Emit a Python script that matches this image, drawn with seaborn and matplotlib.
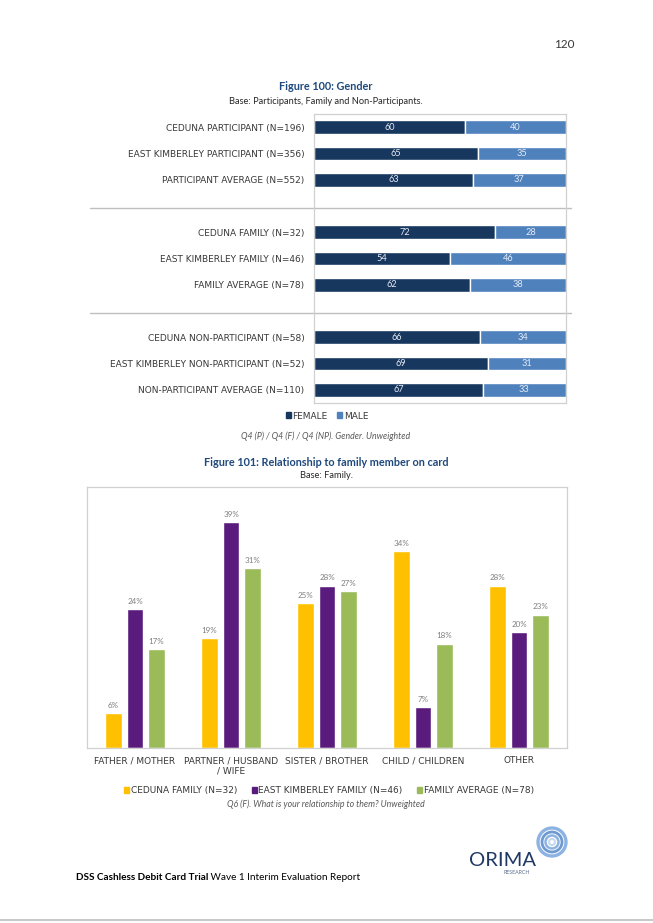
import matplotlib
matplotlib.use("Agg")
import pandas as pd
import matplotlib.pyplot as plt
import seaborn as sns
from matplotlib.patches import Patch, Circle

# Figure 100: Gender
groups = ["CEDUNA PARTICIPANT (N=196)", "EAST KIMBERLEY PARTICIPANT (N=356)",
          "PARTICIPANT AVERAGE (N=552)",
          "CEDUNA FAMILY (N=32)", "EAST KIMBERLEY FAMILY (N=46)", "FAMILY AVERAGE (N=78)",
          "CEDUNA NON-PARTICIPANT (N=58)", "EAST KIMBERLEY NON-PARTICIPANT (N=52)",
          "NON-PARTICIPANT AVERAGE (N=110)"]
female = [60, 65, 63, 72, 54, 62, 66, 69, 67]
male = [40, 35, 37, 28, 46, 38, 34, 31, 33]
row_order = groups[:3] + [""] + groups[3:6] + [" "] + groups[6:]

# Figure 101: Relationship to family member on card
relations = ["FATHER / MOTHER", "PARTNER / HUSBAND\n/ WIFE", "SISTER / BROTHER",
             "CHILD / CHILDREN", "OTHER"]
series = ["CEDUNA FAMILY (N=32)", "EAST KIMBERLEY FAMILY (N=46)", "FAMILY AVERAGE (N=78)"]
ceduna_family = [6, 19, 25, 34, 28]
ek_family = [24, 39, 28, 7, 20]
family_avg = [17, 31, 27, 18, 23]

NAVY = "#17375E"
BLUE = "#4F81BD"
YELLOW = "#FFC000"
PURPLE = "#5A1C7C"
GREEN = "#9BBB59"
TITLE_BLUE = "#1F497D"
LABEL = "#383838"
CAPS = ["DejaVu Sans"]  # wide caps, closer to the letter-spaced labels
CAPS_SIZE = 6.5

sns.set_style("white")
plt.rcParams["font.family"] = ["Lato", "DejaVu Sans"]

W, H = 653, 923
fig = plt.figure(figsize=(W / 100, H / 100), dpi=100)


def px_axes(l, t, r, b):
    return fig.add_axes([l / W, 1 - b / H, (r - l) / W, (b - t) / H])


page = fig.add_axes([0, 0, 1, 1])
page.set_xlim(0, W)
page.set_ylim(H, 0)
page.axis("off")

# ---- page text ----
page.text(564, 45, "120", ha="center", va="center", fontsize=8.5, color=LABEL)
page.text(326, 87, "Figure 100: Gender", ha="center", va="center", fontsize=7.8,
          fontweight="bold", color=TITLE_BLUE)
page.text(326, 101, "Base: Participants, Family and Non-Participants.", ha="center",
          va="center", fontsize=6.7, color="#262626")
page.text(326, 436, "Q4 (P) / Q4 (F) / Q4 (NP). Gender. Unweighted", ha="center",
          va="center", fontsize=6.3, style="italic", color="#595959")
page.text(326, 462, "Figure 101: Relationship to family member on card", ha="center",
          va="center", fontsize=7.8, fontweight="bold", color=TITLE_BLUE)
page.text(326, 475, "Base: Family.", ha="center", va="center", fontsize=6.7, color="#262626")
page.text(326, 804, "Q6 (F). What is your relationship to them? Unweighted", ha="center",
          va="center", fontsize=6.3, style="italic", color="#595959")

t1 = page.text(76, 877, "DSS Cashless Debit Card Trial", ha="left", va="center",
               fontsize=7.2, fontweight="bold", color="black")
page.annotate(" Wave 1 Interim Evaluation Report", xy=(1, 0.5), xycoords=t1,
              ha="left", va="center", fontsize=7.2, color="black")
page.plot([0, W], [920, 920], color="#BFBFBF", lw=1.2)

# logo
for r, c, lw in [(14, "#8DB3E2", 2.4), (10, "#6F9AD0", 2.0), (6.5, "#8DB3E2", 1.8), (3, "#C6D9F1", 1.5)]:
    page.add_patch(Circle((552, 842), r, fill=False, ec=c, lw=lw))
page.text(502, 861, "ORIMA", ha="center", va="center", fontsize=14.5, color="#1F3864")
page.text(517, 873, "RESEARCH", ha="center", va="center", fontsize=3.8, color="#5A6E8C")

# ---- Figure 100 ----
gender = pd.DataFrame({"group": groups, "female": female, "male": male})
ax1 = px_axes(314, 114, 566, 403)
sns.barplot(data=gender, x="female", y="group", order=row_order, color=NAVY,
            width=0.52, errorbar=None, ax=ax1, saturation=1)
sns.barplot(data=gender, x="male", y="group", order=row_order, color=BLUE,
            left=gender["female"].to_numpy(), width=0.52, errorbar=None, ax=ax1,
            saturation=1)
for c in ax1.containers:
    ax1.bar_label(c, label_type="center", fmt="{:.0f}", color="#E6ECF5", fontsize=6.6)
ax1.set_xlim(0, 100)
ax1.set_xticks([])
ax1.set_xlabel("")
ax1.set_ylabel("")
ax1.tick_params(axis="y", length=0, pad=7, labelcolor=LABEL)
for lab in ax1.get_yticklabels():
    lab.set_family(CAPS)
    lab.set_fontsize(CAPS_SIZE)
for s in ax1.spines.values():
    s.set_color("#D0D0D0")
    s.set_linewidth(0.9)
for blank in ["", " "]:
    y = row_order.index(blank)
    ax1.axhline(y + 0.08, xmin=(90 - 314) / 252, xmax=1.02, color="#BFBFBF", lw=1,
                clip_on=False)
fig.legend(handles=[Patch(color=NAVY, label="FEMALE"), Patch(color=BLUE, label="MALE")],
           loc="center", bbox_to_anchor=(327 / W, 1 - 416 / H), ncol=2, frameon=False,
           prop={"family": CAPS, "size": CAPS_SIZE}, handlelength=0.6, handleheight=0.6,
           handletextpad=0.15, columnspacing=1.0, labelcolor=LABEL)

# ---- Figure 101 ----
fam = pd.DataFrame({
    "relation": relations * 3,
    "series": [s for s in series for _ in relations],
    "value": ceduna_family + ek_family + family_avg,
})
ax2 = px_axes(87, 487, 567, 748)
sns.barplot(data=fam, x="relation", y="value", hue="series", hue_order=series,
            palette=[YELLOW, PURPLE, GREEN], width=0.675, gap=0.23, errorbar=None,
            saturation=1, legend=False, ax=ax2)
for c in ax2.containers:
    ax2.bar_label(c, fmt="{:.0f}%", padding=3, fontsize=5.8, color="#7F7F7F")
ax2.set_ylim(0, 45)
ax2.set_xlim(-0.5, 4.5)
ax2.set_yticks([])
ax2.set_xlabel("")
ax2.set_ylabel("")
ax2.tick_params(axis="x", length=0, pad=6, labelcolor=LABEL)
for lab in ax2.get_xticklabels():
    lab.set_family(CAPS)
    lab.set_fontsize(CAPS_SIZE)
for s in ax2.spines.values():
    s.set_color("#D0D0D0")
    s.set_linewidth(0.9)
fig.legend(handles=[Patch(color=col, label=lab) for col, lab in zip([YELLOW, PURPLE, GREEN], series)],
           loc="center", bbox_to_anchor=(329 / W, 1 - 791 / H), ncol=3, frameon=False,
           prop={"family": CAPS, "size": CAPS_SIZE}, handlelength=0.6, handleheight=0.6,
           handletextpad=0.15, columnspacing=1.6, labelcolor=LABEL)

fig.savefig("out.png", dpi=100)
